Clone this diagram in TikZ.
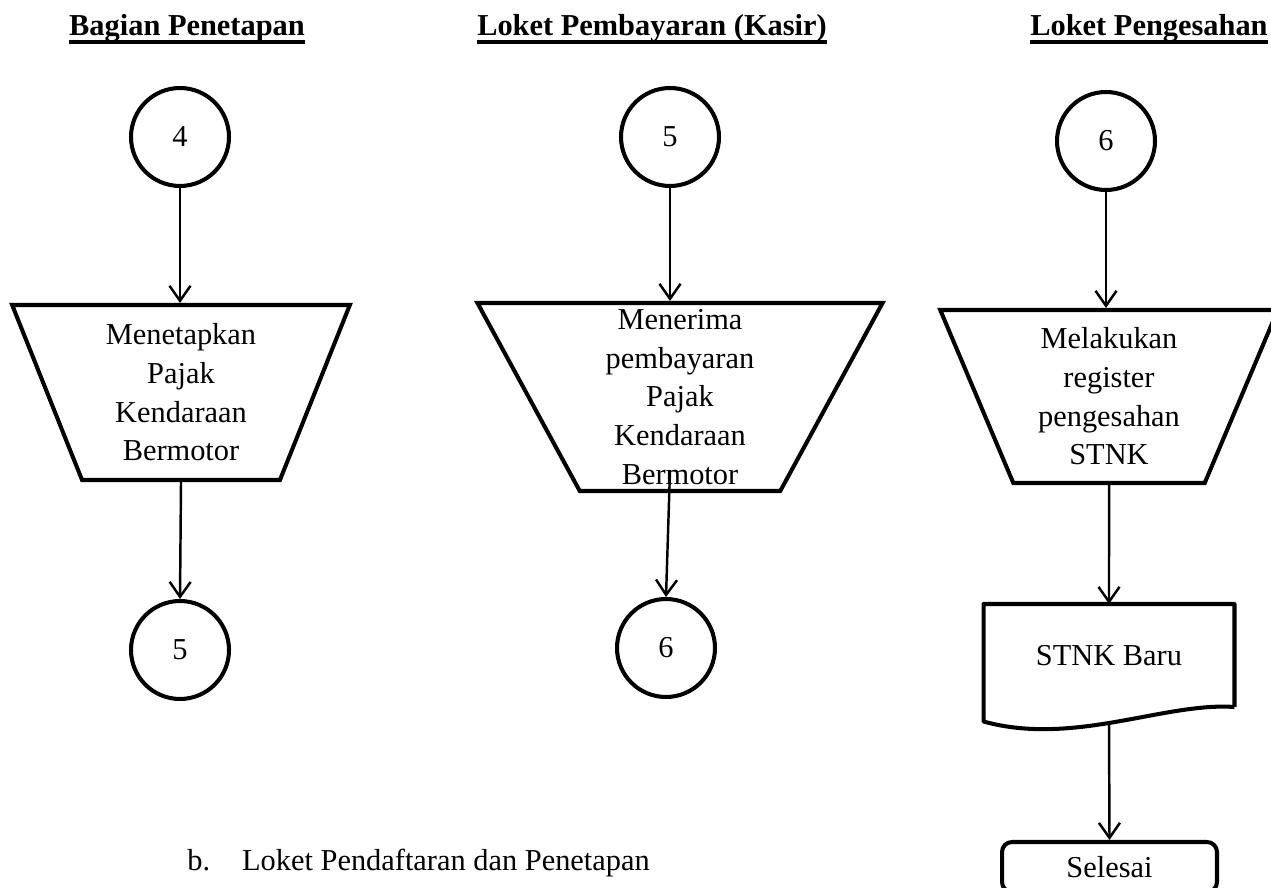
\documentclass[tikz,border=0pt]{standalone}
\usepackage{fontspec}
\setmainfont{Liberation Serif}
\usetikzlibrary{shapes.geometric,arrows.meta,positioning,calc}

% bold heading with a thick underline
\newcommand{\headline}[1]{\setbox0\hbox{\bfseries #1}\rlap{\usebox0}\rule[-4.5pt]{\wd0}{2.2pt}}

\tikzset{
  basefont/.style={font=\fontsize{17.3}{22}\selectfont},
  head/.style={basefont, anchor=base, inner sep=0pt},
  connector/.style={circle, draw, line width=2.3pt, minimum size=1.96cm, inner sep=0pt, basefont},
  process/.style={trapezium, shape border rotate=180, trapezium stretches=true, draw, line width=2.3pt, align=center, inner sep=0pt, basefont},
  flow/.style={-{Straight Barb[length=0.3cm,width=0.42cm]}, line width=1.4pt},
  docshape/.style={draw=none, outer sep=0pt, minimum width=5.02cm, minimum height=2.06cm, basefont},
  endbox/.style={draw, rounded corners=0.2cm, line width=2.3pt, minimum width=4.3cm, minimum height=1cm, basefont},
}

\begin{document}
\begin{tikzpicture}[x=0.02cm,y=-0.02cm]
\useasboundingbox (0,0) rectangle (1271,888);

% Headings
\node[head] (hpenetapan) at (187,36) {\headline{Bagian Penetapan}};
\node[head] (hkasir) at (652,36) {\headline{Loket Pembayaran (Kasir)}};
\node[head] (hsah) at (1149,36) {\headline{Loket Pengesahan}};

% Bagian Penetapan
\node[connector] (c4) at (180,137) {4};
\node[process, trapezium angle=68.9, minimum width=6.76cm, minimum height=3.5cm] (tetap) at (181,392.5) {Menetapkan\\Pajak\\Kendaraan\\Bermotor};
\node[connector] (c5a) at (180,650) {5};
\draw[flow] (c4) -- (c4 |- tetap.north);
\draw[flow] (tetap.south) -- (c5a.north);

% Loket Pembayaran (Kasir)
\node[connector] (c5b) at (670,137) {5};
\node[process, trapezium angle=66.6, minimum width=8.12cm, minimum height=3.76cm] (bayar) at (680,397) {Menerima\\pembayaran\\Pajak\\Kendaraan\\Bermotor};
\node[connector] (c6a) at (666,648) {6};
\coordinate (bayarout) at (670,470);
\draw[flow] (c5b) -- (c5b |- bayar.north);
\draw[flow] (bayarout) -- (c6a.north);

% Loket Pengesahan
\node[connector] (c6b) at (1106,141) {6};
\node[process, trapezium angle=68.5, minimum width=6.76cm, minimum height=3.46cm] (sah) at (1109,396.5) {Melakukan\\register\\pengesahan\\STNK};
\node[docshape] (stnk) at (1109,655.5) {STNK Baru};
\draw[line width=2.3pt, line join=round] (stnk.south east) -- (stnk.north east) -- (stnk.north west) -- ($(stnk.south west)+(0,14.5)$) .. controls +(90,25) and +(-70,-5) .. (stnk.south east);
\coordinate (stnkout) at (1109,725);
\node[endbox] (selesai) at (1109.5,867) {Selesai};
\draw[flow] (c6b) -- (c6b |- sah.north);
\draw[flow] (sah.south) -- (stnk.north);
\draw[flow] (stnkout) -- (selesai.north);

% Sub heading
\node[basefont, anchor=base west, inner sep=0pt] (subb) at (187,870) {b.\hspace{0.64cm}Loket Pendaftaran dan Penetapan};
\end{tikzpicture}
\end{document}
